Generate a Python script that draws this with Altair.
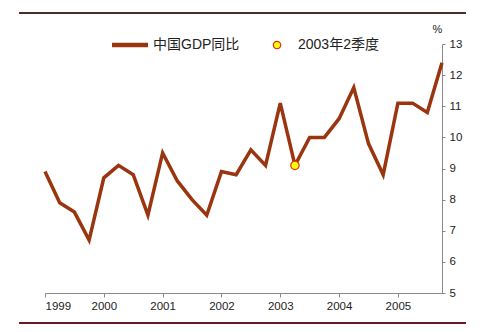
import altair as alt
import pandas as pd

# ---- data ----
years = [1999] * 4 + [2000] * 4 + [2001] * 4 + [2002] * 4 + [2003] * 4 + [2004] * 4 + [2005] * 4
quarters = [1, 2, 3, 4] * 7
gdp = [8.9, 7.9, 7.6, 6.7,
       8.7, 9.1, 8.8, 7.5,
       9.5, 8.6, 8.0, 7.5,
       8.9, 8.8, 9.6, 9.1,
       11.1, 9.1, 10.0, 10.0,
       10.6, 11.6, 9.8, 8.8,
       11.1, 11.1, 10.8, 12.4]
tick_years = [1999, 2000, 2001, 2002, 2003, 2004, 2005]
y_ticks = [5, 6, 7, 8, 9, 10, 11, 12, 13]
series_label = "中国GDP同比"
point_label = "2003年2季度"
highlight_year, highlight_q = 2003, 2

df = pd.DataFrame({
    "t": [y + (q - 1) / 4 for y, q in zip(years, quarters)],
    "gdp": gdp,
    "hl": [(y == highlight_year and q == highlight_q) for y, q in zip(years, quarters)],
})

FONT = "Liberation Sans, Arial, Noto Sans CJK SC"
LINE = "#9a3510"
AXIS = "#8a8a8a"

x_enc = alt.X("t:Q",
              scale=alt.Scale(domain=[1999, 2005.75], nice=False, zero=False),
              axis=alt.Axis(values=tick_years, format="d", title=None, grid=False,
                            domainColor=AXIS, tickColor=AXIS, tickSize=4,
                            labelFontSize=11.5, labelColor="#222222", labelPadding=3,
                            labelOverlap=False, labelFont=FONT))
y_enc = alt.Y("gdp:Q",
              scale=alt.Scale(domain=[5, 13], nice=False, zero=False),
              axis=alt.Axis(orient="right", values=y_ticks, title="%", grid=False,
                            domainColor=AXIS, tickColor=AXIS, tickSize=3,
                            labelFontSize=11.5, labelColor="#222222", labelPadding=4,
                            labelOverlap=False, labelFont=FONT,
                            titleAngle=0, titleX=-5, titleY=-10, titleAlign="center",
                            titleFontSize=11, titleFontWeight="normal",
                            titleColor="#222222", titleFont=FONT))

base = alt.Chart(df)
line = base.mark_line(color=LINE, strokeWidth=3.5, strokeJoin="miter").encode(x=x_enc, y=y_enc)
point = base.transform_filter(alt.datum.hl).mark_point(
    filled=True, fill="#ffff00", stroke="#e03010", strokeWidth=1.2, size=70, opacity=1
).encode(x=x_enc, y=y_enc)

deco = alt.Chart(pd.DataFrame({"a": [0]}))
top_rule = deco.mark_rule(color="#4a2c2c", strokeWidth=2).encode(
    x=alt.value(-26), x2=alt.value(421), y=alt.value(-31))
bot_rule = deco.mark_rule(color="#701428", strokeWidth=2).encode(
    x=alt.value(-26), x2=alt.value(421), y=alt.value(279))

leg_line = deco.mark_rule(color=LINE, strokeWidth=4.5).encode(
    x=alt.value(67), x2=alt.value(103), y=alt.value(1))
leg_text1 = deco.mark_text(align="left", baseline="middle", fontSize=14, font=FONT,
                           color="#222222").encode(
    x=alt.value(108), y=alt.value(1), text=alt.value(series_label))
leg_pt = deco.mark_point(filled=True, fill="#ffff00", stroke="#e03010", strokeWidth=1.2,
                         size=55, opacity=1).encode(x=alt.value(232), y=alt.value(1))
leg_text2 = deco.mark_text(align="left", baseline="middle", fontSize=14, font=FONT,
                           color="#222222").encode(
    x=alt.value(253), y=alt.value(1), text=alt.value(point_label))

chart = alt.layer(line, point, top_rule, bot_rule, leg_line, leg_text1, leg_pt, leg_text2).properties(
    width=397, height=249,
    padding={"left": 45, "top": 44, "right": 57, "bottom": 39},
    autosize=alt.AutoSizeParams(type="none"),
    background="white",
).configure_view(stroke=None).configure_axis(labelOverlap=False)

chart.save("out.html", embed_options={"renderer": "svg", "actions": False})
